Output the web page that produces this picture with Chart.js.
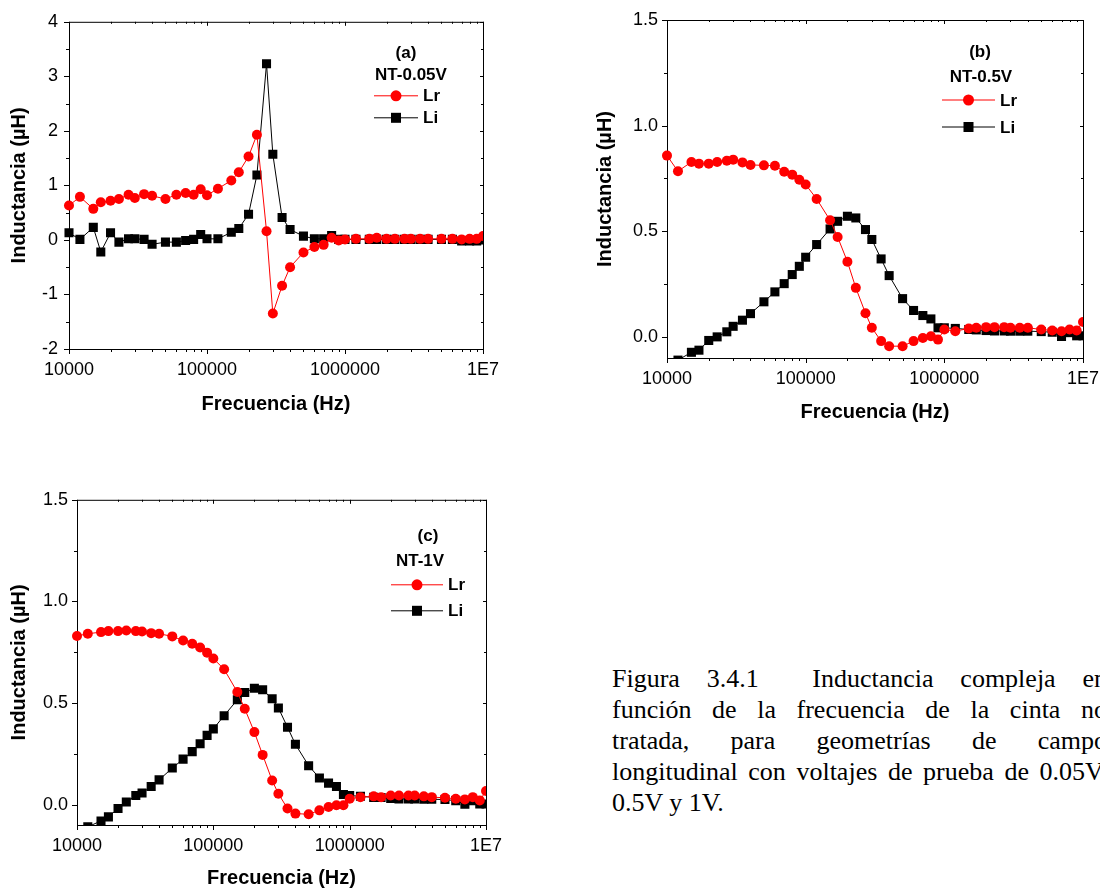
<!DOCTYPE html>
<html>
<head>
<meta charset="utf-8">
<script src="https://cdn.jsdelivr.net/npm/chart.js@4.4.1/dist/chart.umd.min.js"></script>
<style>
  html, body { margin: 0; padding: 0; background: #fff; width: 1100px; height: 890px; overflow: hidden; position: relative; }
  canvas { position: absolute; }
  #caption { position: absolute; left: 612px; top: 663px; width: 495px; font-family: "Liberation Serif", "Times New Roman", serif; font-size: 26px; line-height: 31px; color: #000; }
  #caption .j { text-align: justify; text-align-last: justify; }
</style>
</head>
<body>
<canvas id="chartA" width="520" height="420" style="left:0px;top:0px"></canvas>
<canvas id="chartB" width="540" height="428" style="left:586px;top:0px"></canvas>
<canvas id="chartC" width="520" height="414" style="left:0px;top:480px"></canvas>
<div id="caption">
  <div class="j">Figura 3.4.1&nbsp; Inductancia compleja en</div>
  <div class="j">función de la frecuencia de la cinta no</div>
  <div class="j">tratada, para geometrías de campo</div>
  <div class="j">longitudinal con voltajes de prueba de 0.05V,</div>
  <div>0.5V y 1V.</div>
</div>
<script>
// frecuencias medidas (Hz)
const freq = [1e4, 1.2e4, 1.5e4, 1.7e4, 2e4, 2.3e4, 2.7e4, 3e4, 3.5e4, 4e4, 5e4, 6e4, 7e4, 8e4, 9e4,
  1e5, 1.2e5, 1.5e5, 1.7e5, 2e5, 2.3e5, 2.7e5, 3e5, 3.5e5, 4e5, 5e5, 6e5, 7e5, 8e5, 9e5,
  1e6, 1.2e6, 1.5e6, 1.7e6, 2e6, 2.3e6, 2.7e6, 3e6, 3.5e6, 4e6, 5e6, 6e6, 7e6, 8e6, 9e6, 1e7];

// (a) NT-0.05V
const lrA = [0.63, 0.79, 0.57, 0.69, 0.72, 0.75, 0.83, 0.77, 0.84, 0.81, 0.75, 0.83, 0.86, 0.83, 0.93,
  0.82, 0.94, 1.09, 1.24, 1.53, 1.93, 0.16, -1.35, -0.84, -0.50, -0.23, -0.13, -0.09, 0.04, -0.01,
  0.01, 0.02, 0.02, 0.04, 0.02, 0.02, 0.02, 0.02, 0.02, 0.02, 0.02, 0.02, 0.01, 0.02, 0.02, 0.07];
const liA = [0.13, 0.01, 0.23, -0.22, 0.13, -0.04, 0.02, 0.02, 0.01, -0.08, -0.04, -0.04, -0.01, 0.01, 0.10,
  0.02, 0.02, 0.14, 0.21, 0.47, 1.19, 3.23, 1.57, 0.41, 0.19, 0.07, 0.02, 0.02, 0.08, 0.01,
  0.01, 0.01, 0.01, 0.01, 0.01, 0.01, 0.01, 0.01, 0.01, 0.01, 0.01, 0.01, -0.02, -0.02, -0.02, 0.0];

// (b) NT-0.5V
const lrB = [0.858, 0.784, 0.828, 0.82, 0.82, 0.828, 0.834, 0.839, 0.826, 0.814, 0.812, 0.81, 0.782, 0.768, 0.744,
  0.721, 0.653, 0.552, 0.473, 0.356, 0.232, 0.112, 0.043, -0.02, -0.044, -0.044, -0.02, -0.005, 0.003, -0.013,
  0.035, 0.027, 0.04, 0.043, 0.046, 0.046, 0.046, 0.043, 0.043, 0.043, 0.035, 0.03, 0.027, 0.035, 0.03, 0.07];
const liB = [-0.13, -0.11, -0.073, -0.063, -0.017, 0.0, 0.024, 0.05, 0.079, 0.11, 0.166, 0.213, 0.252, 0.295, 0.334,
  0.377, 0.437, 0.511, 0.547, 0.571, 0.563, 0.508, 0.461, 0.369, 0.29, 0.181, 0.125, 0.101, 0.085, 0.043,
  0.043, 0.04, 0.035, 0.033, 0.03, 0.028, 0.028, 0.027, 0.027, 0.027, 0.025, 0.022, 0.002, 0.02, 0.005, 0.005];

// (c) NT-1V
const lrC = [0.83, 0.841, 0.849, 0.854, 0.854, 0.857, 0.854, 0.852, 0.844, 0.841, 0.828, 0.808, 0.792, 0.773, 0.748,
  0.719, 0.666, 0.554, 0.472, 0.357, 0.245, 0.119, 0.054, -0.019, -0.044, -0.047, -0.028, -0.011, -0.003, -0.003,
  0.029, 0.037, 0.041, 0.037, 0.045, 0.045, 0.045, 0.045, 0.041, 0.037, 0.034, 0.029, 0.026, 0.037, 0.021, 0.067];
const liC = [-0.13, -0.109, -0.08, -0.06, -0.019, 0.013, 0.045, 0.057, 0.089, 0.122, 0.18, 0.224, 0.261, 0.30, 0.341,
  0.373, 0.438, 0.516, 0.552, 0.573, 0.565, 0.521, 0.476, 0.381, 0.297, 0.192, 0.131, 0.106, 0.089, 0.05,
  0.045, 0.041, 0.036, 0.035, 0.03, 0.028, 0.028, 0.028, 0.027, 0.027, 0.025, 0.02, 0.002, 0.02, 0.003, 0.003];

// ticks
const xTickValues = [1e4, 1e5, 1e6, 1e7];
const xTickLabels = ['10000', '100000', '1000000', '1E7'];
const xMinorTicks = [1e4, 1e5, 1e6].flatMap(d => [2, 3, 4, 5, 6, 7, 8, 9].map(m => d * m));
const yTicksA = [-2, -1, 0, 1, 2, 3, 4];
const yMinorA = [-1.5, -0.5, 0.5, 1.5, 2.5, 3.5];
const yTicksBC = [0, 0.5, 1.0, 1.5];
const yMinorBC = [0.25, 0.75, 1.25];

Chart.defaults.font.family = '"Liberation Sans", Arial, sans-serif';
Chart.defaults.color = '#000';

const RED = '#ff0000';

// marco con ticks estilo Origin
const framePlugin = {
  id: 'frame',
  beforeDatasetsDraw(chart, args, o) {
    const { ctx, chartArea: a, scales: { x, y } } = chart;
    ctx.save();
    ctx.strokeStyle = '#000';
    ctx.lineWidth = 1;
    ctx.strokeRect(a.left + 0.5, a.top + 0.5, a.right - a.left, a.bottom - a.top);
    ctx.beginPath();
    const seg = (x1, y1, x2, y2) => { ctx.moveTo(x1, y1); ctx.lineTo(x2, y2); };
    xTickValues.forEach(v => {
      const p = Math.round(x.getPixelForValue(v)) + 0.5;
      seg(p, a.bottom, p, a.bottom + 5);
      seg(p, a.top, p, a.top + 4);
    });
    xMinorTicks.forEach(v => {
      const p = Math.round(x.getPixelForValue(v)) + 0.5;
      seg(p, a.bottom, p, a.bottom + 3);
      seg(p, a.top, p, a.top + 2);
    });
    o.major.forEach(v => {
      const p = Math.round(y.getPixelForValue(v)) + 0.5;
      seg(a.left - 5, p, a.left, p);
      seg(a.right - 3, p, a.right, p);
    });
    o.minor.forEach(v => {
      const p = Math.round(y.getPixelForValue(v)) + 0.5;
      seg(a.left - 3, p, a.left, p);
      seg(a.right - 2, p, a.right, p);
    });
    ctx.stroke();
    ctx.restore();
  }
};

// leyenda dentro del area
const legendPlugin = {
  id: 'innerLegend',
  afterDraw(chart, args, o) {
    const { ctx, chartArea: a } = chart;
    ctx.save();
    ctx.fillStyle = '#000';
    ctx.font = 'bold 17px "Liberation Sans", Arial, sans-serif';
    ctx.textAlign = 'center';
    ctx.textBaseline = 'middle';
    ctx.fillText(o.tag, a.left + o.tagX, a.top + o.tagY);
    ctx.fillText(o.name, a.left + o.nameX, a.top + o.nameY);
    const rows = [
      { label: 'Lr', color: RED, dy: o.rowY, shape: 'circle' },
      { label: 'Li', color: '#000', dy: o.rowY + o.rowGap, shape: 'rect' }
    ];
    rows.forEach(r => {
      const yy = a.top + r.dy;
      const x1 = a.left + o.lineX;
      const x2 = x1 + o.lineW;
      const xm = (x1 + x2) / 2;
      ctx.strokeStyle = r.color;
      ctx.lineWidth = 1;
      ctx.beginPath();
      ctx.moveTo(x1, yy); ctx.lineTo(x2, yy);
      ctx.stroke();
      ctx.fillStyle = r.color;
      if (r.shape === 'circle') {
        ctx.beginPath(); ctx.arc(xm, yy, 5.5, 0, Math.PI * 2); ctx.fill();
      } else {
        ctx.fillRect(xm - 5, yy - 5, 10, 10);
      }
      ctx.fillStyle = '#000';
      ctx.textAlign = 'left';
      ctx.fillText(r.label, x2 + 5, yy + 1);
    });
    ctx.restore();
  }
};

function pts(series) {
  return freq.map((f, i) => ({ x: f, y: series[i] }));
}

function makeChart(id, c) {
  return new Chart(document.getElementById(id), {
    type: 'line',
    data: {
      datasets: [
        {
          label: 'Lr', data: pts(c.lr), borderColor: RED, backgroundColor: RED,
          borderWidth: 1, pointStyle: 'circle', pointRadius: 5, pointBorderWidth: 0,
          tension: 0, clip: { left: 6, top: 0, right: 0, bottom: 0 }
        },
        {
          label: 'Li', data: pts(c.li), borderColor: '#000', backgroundColor: '#000',
          borderWidth: 1, pointStyle: 'rect', pointRadius: 6.4, pointBorderWidth: 0,
          tension: 0, clip: { left: 6, top: 0, right: 0, bottom: 0 }
        }
      ]
    },
    options: {
      responsive: false,
      animation: false,
      devicePixelRatio: 1,
      layout: { padding: { left: 0, top: c.padTop, right: c.padRight, bottom: 0 } },
      plugins: {
        legend: { display: false },
        tooltip: { enabled: false },
        frame: { major: c.yTicks, minor: c.yMinor },
        innerLegend: c.legend
      },
      scales: {
        x: {
          type: 'logarithmic', min: 1e4, max: 1e7,
          afterFit: s => { s.height = c.xh; },
          afterBuildTicks: s => { s.ticks = xTickValues.map(v => ({ value: v })); },
          grid: { display: false, drawTicks: false },
          border: { display: false },
          ticks: {
            autoSkip: false, maxRotation: 0, padding: 10,
            font: { size: 18 },
            callback: v => xTickLabels[xTickValues.indexOf(v)]
          },
          title: {
            display: true, text: 'Frecuencia (Hz)',
            font: { size: 20, weight: 'bold' }, padding: { top: 0, bottom: 4 }
          }
        },
        y: {
          min: c.yMin, max: c.yMax,
          afterFit: s => { s.width = c.yw; },
          afterBuildTicks: s => { s.ticks = c.yTicks.map(v => ({ value: v })); },
          grid: { display: false, drawTicks: false },
          border: { display: false },
          ticks: {
            padding: c.yPad,
            font: { size: 18 },
            callback: v => c.dec ? v.toFixed(c.dec) : String(v)
          },
          title: {
            display: true, text: 'Inductancia (µH)',
            font: { size: 20, weight: 'bold' }, padding: { top: 7, bottom: 0 }
          }
        }
      }
    },
    plugins: [framePlugin, legendPlugin]
  });
}

makeChart('chartA', {
  lr: lrA, li: liA, yMin: -2, yMax: 4, yTicks: yTicksA, yMinor: yMinorA, dec: 0,
  yw: 69, xh: 71, padTop: 17, padRight: 37, yPad: 11,
  legend: { tag: '(a)', name: 'NT-0.05V', tagX: 337, tagY: 32, nameX: 342, nameY: 54,
    lineX: 305, lineW: 44, rowY: 74, rowGap: 22 }
});

makeChart('chartB', {
  lr: lrB, li: liB, yMin: -0.1, yMax: 1.5, yTicks: yTicksBC, yMinor: yMinorBC, dec: 1,
  yw: 81, xh: 70, padTop: 20, padRight: 43, yPad: 9,
  legend: { tag: '(b)', name: 'NT-0.5V', tagX: 313, tagY: 32, nameX: 314, nameY: 57,
    lineX: 275, lineW: 53, rowY: 80, rowGap: 27 }
});

makeChart('chartC', {
  lr: lrC, li: liC, yMin: -0.1, yMax: 1.5, yTicks: yTicksBC, yMinor: yMinorBC, dec: 1,
  yw: 77, xh: 69, padTop: 15, padRight: 34, yPad: 9,
  legend: { tag: '(c)', name: 'NT-1V', tagX: 351, tagY: 37, nameX: 343, nameY: 62,
    lineX: 314, lineW: 52, rowY: 85, rowGap: 26 }
});
</script>
</body>
</html>
